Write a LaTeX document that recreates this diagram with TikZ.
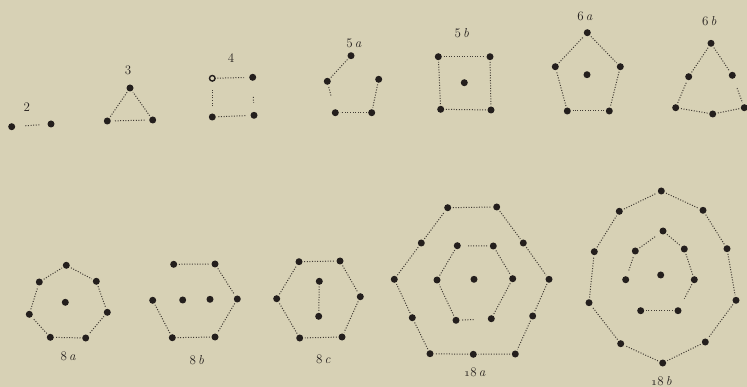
\documentclass[tikz,border=0pt]{standalone}
\usepackage{xcolor}
\definecolor{paper}{RGB}{215,209,181}
\definecolor{ink}{RGB}{36,31,29}
\definecolor{dotline}{RGB}{66,60,52}

\begin{document}
\begin{tikzpicture}[x=1pt,y=-1pt]
    % --- STYLES ---
    \tikzset{
        dotNode/.style={circle, fill=ink, inner sep=0pt, minimum size=7pt},
        ringNode/.style={circle, draw=ink, fill=paper, line width=1.4pt, inner sep=0pt, minimum size=5.6pt},
        edgeLine/.style={draw=dotline, line width=1pt, dash pattern=on 1pt off 1.6pt, shorten <=1.5pt, shorten >=1.5pt},
        figLabel/.style={font=\fontsize{13}{15}\selectfont, text=ink, inner sep=0pt}
    }

    % --- PAPER ---
    \fill[paper] (0,0) rectangle (747,387);
    \useasboundingbox (0,0) rectangle (747,387);

    % --- TOP ROW ---

    % 2
    \node[figLabel] (l2) at (26.7,106.7) {2};
    \node[dotNode] (p2a) at (11.7,126.7) {};
    \node[dotNode] (p2b) at (51,124) {};
    \draw[edgeLine, shorten <=10pt, shorten >=7pt] (p2a) -- (p2b);

    % 3
    \node[figLabel] (l3) at (128,70) {3};
    \foreach \i/\x/\y in {1/130/88, 2/152.7/120, 3/107.3/121}
        \node[dotNode] (p3\i) at (\x,\y) {};
    \draw[edgeLine] (p31) -- (p33);
    \draw[edgeLine, shorten <=4pt, shorten >=4pt] (p33) -- (p32);
    \draw[edgeLine] (p32) -- (p31);

    % 4 (first dot printed open)
    \node[figLabel] (l4) at (231,58.3) {4};
    \node[ringNode] (p41) at (212.3,78.3) {};
    \foreach \i/\x/\y in {2/252.7/77.3, 3/254/115.3, 4/212.3/117}
        \node[dotNode] (p4\i) at (\x,\y) {};
    \draw[edgeLine, shorten >=5pt] (p41) -- (p42);
    \draw[edgeLine, shorten <=16pt, shorten >=9pt] (p42) -- (p43);
    \draw[edgeLine, shorten <=5pt] (p43) -- (p44);
    \draw[edgeLine, shorten <=7pt, shorten >=7pt] (p44) -- (p41);

    % 5 a
    \node[figLabel] (l5a) at (354,43) {5\,\textit{a}};
    \foreach \i/\x/\y in {1/351/55.7, 2/378.7/79.3, 3/371.7/112.7, 4/335.3/112.7, 5/327.3/81.3}
        \node[dotNode] (p5a\i) at (\x,\y) {};
    \draw[edgeLine] (p5a2) -- (p5a3);
    \draw[edgeLine] (p5a3) -- (p5a4);
    \draw[edgeLine, shorten <=14pt] (p5a4) -- (p5a5);
    \draw[edgeLine] (p5a5) -- (p5a1);

    % 5 b
    \node[figLabel] (l5b) at (461.7,33.3) {5\,\textit{b}};
    \foreach \i/\x/\y in {1/438.3/56.7, 2/490/56.7, 3/491/110, 4/440.7/109.3}
        \node[dotNode] (p5b\i) at (\x,\y) {};
    \node[dotNode] (c5b) at (464.3,82.7) {};
    \foreach \i [remember=\i as \j (initially 4)] in {1,...,4}
        \draw[edgeLine] (p5b\j) -- (p5b\i);

    % 6 a
    \node[figLabel] (l6a) at (585,16.7) {6\,\textit{a}};
    \foreach \i/\x/\y in {1/587.3/32.7, 2/620.3/66.7, 3/609.3/111, 4/567.3/111, 5/555.3/66.7}
        \node[dotNode] (p6a\i) at (\x,\y) {};
    \node[dotNode] (c6a) at (587,74.7) {};
    \foreach \i [remember=\i as \j (initially 5)] in {1,...,5}
        \draw[edgeLine] (p6a\j) -- (p6a\i);

    % 6 b
    \node[figLabel] (l6b) at (709.3,20.7) {6\,\textit{b}};
    \foreach \i/\x/\y in {1/711/43.3, 2/732.3/75.3, 3/744.3/107.7, 4/712.7/114, 5/675.7/107.7, 6/688.7/76.7}
        \node[dotNode] (p6b\i) at (\x,\y) {};
    \draw[edgeLine] (p6b1) -- (p6b2);
    \draw[edgeLine, shorten <=10pt] (p6b2) -- (p6b3);
    \draw[edgeLine] (p6b3) -- (p6b4);
    \draw[edgeLine] (p6b4) -- (p6b5);
    \draw[edgeLine] (p6b5) -- (p6b6);
    \draw[edgeLine] (p6b6) -- (p6b1);

    % --- BOTTOM ROW ---

    % 8 a
    \node[figLabel] (l8a) at (68.3,356) {8\,\textit{a}};
    \foreach \i/\x/\y in {1/66.3/265.3, 2/96.3/281.3, 3/107.3/312.3, 4/85.7/338, 5/50.3/337.3, 6/29.3/314.3, 7/39.3/282}
        \node[dotNode] (p8a\i) at (\x,\y) {};
    \node[dotNode] (c8a) at (65.3,302.3) {};
    \foreach \i [remember=\i as \j (initially 7)] in {1,...,7}
        \draw[edgeLine] (p8a\j) -- (p8a\i);

    % 8 b
    \node[figLabel] (l8b) at (196.7,360) {8\,\textit{b}};
    \foreach \i/\x/\y in {1/173.7/264.3, 2/215/264, 3/237.3/299, 4/215/337, 5/172.3/337.7, 6/152.7/300.3}
        \node[dotNode] (p8b\i) at (\x,\y) {};
    \node[dotNode] (c8b1) at (182.7,300) {};
    \node[dotNode] (c8b2) at (210,299.3) {};
    \foreach \i [remember=\i as \j (initially 1)] in {2,...,6}
        \draw[edgeLine] (p8b\j) -- (p8b\i);

    % 8 c
    \node[figLabel] (l8c) at (323.3,359.3) {8\,\textit{c}};
    \foreach \i/\x/\y in {1/299/261.7, 2/340/261, 3/360.3/296.7, 4/342/337, 5/299.7/338, 6/276.7/298.7}
        \node[dotNode] (p8c\i) at (\x,\y) {};
    \node[dotNode] (c8c1) at (319.3,281.3) {};
    \node[dotNode] (c8c2) at (318.7,316.3) {};
    \foreach \i [remember=\i as \j (initially 6)] in {1,...,6}
        \draw[edgeLine] (p8c\j) -- (p8c\i);
    \draw[edgeLine] (c8c1) -- (c8c2);

    % 18 a
    \node[figLabel] (l18a) at (475,372.7) {\oldstylenums{1}8\,\textit{a}};
    \foreach \i/\x/\y in {1/447.7/207.7, 2/496.7/207, 3/523.3/243, 4/549/279.3, 5/532.7/316, 6/515.3/354,
                          7/473.3/354.3, 8/430/353.7, 9/412.3/317.7, 10/394.3/279.3, 11/421.3/243}
        \node[dotNode] (o18a\i) at (\x,\y) {};
    \foreach \i/\x/\y in {1/457.3/245.7, 2/493.3/246, 3/512.7/278.7, 4/491.3/318.7, 5/456/320.3, 6/437/280}
        \node[dotNode] (i18a\i) at (\x,\y) {};
    \node[dotNode] (c18a) at (474,279.3) {};
    \foreach \i [remember=\i as \j (initially 11)] in {1,...,11}
        \draw[edgeLine] (o18a\j) -- (o18a\i);
    \draw[edgeLine, shorten <=7pt] (i18a1) -- (i18a2);
    \draw[edgeLine] (i18a2) -- (i18a3);
    \draw[edgeLine] (i18a3) -- (i18a4);
    \draw[edgeLine, shorten <=14pt] (i18a4) -- (i18a5);
    \draw[edgeLine] (i18a5) -- (i18a6);
    \draw[edgeLine] (i18a6) -- (i18a1);

    % 18 b
    \node[figLabel] (l18b) at (661.7,380.7) {\oldstylenums{1}8\,\textit{b}};
    \foreach \i/\x/\y in {1/661.3/191, 2/703/210.3, 3/727/248.7, 4/736/300.3, 5/705.3/342,
                          6/662.7/363, 7/620.7/343.7, 8/589/302.7, 9/594.3/251.7, 10/619.3/211.3}
        \node[dotNode] (o18b\i) at (\x,\y) {};
    \foreach \i/\x/\y in {1/663/231, 2/684.3/249, 3/694.3/279.7, 4/678/310.7, 5/640.7/310.7, 6/625.7/279.7, 7/635.3/251}
        \node[dotNode] (i18b\i) at (\x,\y) {};
    \node[dotNode] (c18b) at (660.7,275) {};
    \foreach \i [remember=\i as \j (initially 10)] in {1,...,10}
        \draw[edgeLine] (o18b\j) -- (o18b\i);
    \draw[edgeLine, shorten >=6pt] (i18b7) -- (i18b1);
    \draw[edgeLine] (i18b1) -- (i18b2);
    \draw[edgeLine] (i18b2) -- (i18b3);
    \draw[edgeLine, shorten >=10pt] (i18b3) -- (i18b4);
    \draw[edgeLine] (i18b4) -- (i18b5);
    \draw[edgeLine, shorten <=6pt] (i18b6) -- (i18b7);

\end{tikzpicture}
\end{document}
